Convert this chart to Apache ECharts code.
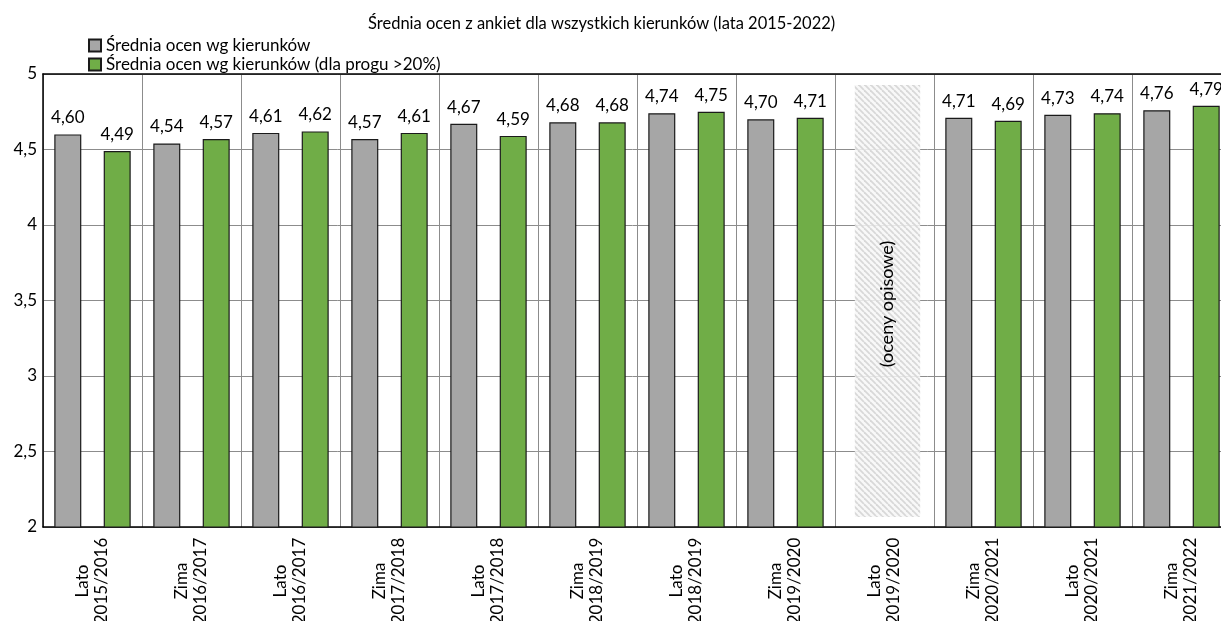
<!DOCTYPE html>
<html>
<head>
<meta charset="utf-8">
<script src="https://cdn.jsdelivr.net/npm/echarts@6/dist/echarts.min.js"></script>
<style>html,body{margin:0;padding:0;background:#fff;}#c{width:1221px;height:621px;}</style>
</head>
<body>
<div id="c"></div>
<script>
const categories = ['Lato\n2015/2016','Zima\n2016/2017','Lato\n2016/2017','Zima\n2017/2018','Lato\n2017/2018','Zima\n2018/2019','Lato\n2018/2019','Zima\n2019/2020','Lato\n2019/2020','Zima\n2020/2021','Lato\n2020/2021','Zima\n2021/2022'];
const seriesAll = [4.60, 4.54, 4.61, 4.57, 4.67, 4.68, 4.74, 4.70, null, 4.71, 4.73, 4.76];
const seriesThreshold = [4.49, 4.57, 4.62, 4.61, 4.59, 4.68, 4.75, 4.71, null, 4.69, 4.74, 4.79];
const descriptiveBlock = [[8, 2.066, 4.927]];
const descriptiveText = '(oceny opisowe)';
const titleText = 'Średnia ocen z ankiet dla wszystkich kierunków (lata 2015-2022)';
const legendNames = ['Średnia ocen wg kierunków', 'Średnia ocen wg kierunków (dla progu >20%)'];

const FONT = 'Lato';
// hatch pattern
const pc = document.createElement('canvas');
pc.width = 6; pc.height = 6;
const g = pc.getContext('2d');
g.fillStyle = 'rgba(247,247,247,0.85)';
g.fillRect(0,0,6,6);
g.strokeStyle = '#d8d8d8';
g.lineWidth = 1.8;
for (let k = -6; k <= 12; k += 6) {
  g.beginPath(); g.moveTo(k, 0); g.lineTo(k + 6, 6); g.stroke();
}

const fmt = v => v.toFixed(2).replace('.', ',');
const chart = echarts.init(document.getElementById('c'));
chart.setOption({
  animation: false,
  backgroundColor: '#fff',
  title: {
    text: titleText, left: 363, top: 10,
    textStyle: {fontFamily: FONT, fontSize: 16.5, fontWeight: 'normal', color: '#000'}
  },
  legend: {
    orient: 'vertical', left: 83, top: 32, itemWidth: 12, itemHeight: 12, itemGap: 2,
    icon: 'rect',
    textStyle: {fontFamily: FONT, fontSize: 17, color: '#000'},
    data: legendNames
  },
  grid: {left: 43, width: 1188, top: 74, bottom: 94, containLabel: false, outerBoundsMode: 'none'},
  xAxis: [{
    type: 'category', data: categories,
    axisLine: {show: true, lineStyle: {color: '#000', width: 1.5}},
    axisTick: {show: false},
    splitLine: {show: true, interval: 0, lineStyle: {color: '#8c8c8c', width: 1}},
    axisLabel: {interval: 0, rotate: 90, align: 'center', verticalAlign: 'middle', margin: 54,
      fontFamily: FONT, fontSize: 17, color: '#000', lineHeight: 19, hideOverlap: false}
  }, {
    type: 'category', data: categories, position: 'top',
    axisLine: {show: true, lineStyle: {color: '#000', width: 1.5}},
    axisTick: {show: false}, axisLabel: {show: false}, splitLine: {show: false}
  }],
  yAxis: {
    type: 'value', min: 2, max: 5, interval: 0.5,
    axisLine: {show: true, lineStyle: {color: '#000', width: 1.5}},
    axisTick: {show: false},
    splitLine: {show: true, lineStyle: {color: '#8c8c8c', width: 1}},
    axisLabel: {margin: 6, fontFamily: FONT, fontSize: 17, color: '#000',
      formatter: v => String(v).replace('.', ',')}
  },
  series: [{
    name: legendNames[0], type: 'bar', data: seriesAll, barWidth: 27, barGap: '83%',
    itemStyle: {color: '#a6a6a6', borderColor: '#1a1a1a', borderWidth: 1.2},
    label: {show: true, position: 'top', distance: 8, fontFamily: FONT, fontSize: 17, color: '#000',
      backgroundColor: '#fff', padding: [0, 3], formatter: p => fmt(p.value)}
  }, {
    name: legendNames[1], type: 'bar', data: seriesThreshold, barWidth: 27,
    itemStyle: {color: '#70ad47', borderColor: '#1a1a1a', borderWidth: 1.2},
    label: {show: true, position: 'top', distance: 8, fontFamily: FONT, fontSize: 17, color: '#000',
      backgroundColor: '#fff', padding: [0, 6], formatter: p => fmt(p.value)}
  }, {
    name: 'opisowe', type: 'custom', data: descriptiveBlock, z: 3,
    renderItem: (params, api) => {
      const x = api.value(0), lo = api.value(1), hi = api.value(2);
      const pt = api.coord([x, hi]); const pb = api.coord([x, lo]);
      const w = api.size([1, 0])[0] * 0.66;
      return {type: 'group', children: [
        {type: 'rect', shape: {x: pt[0] - w / 2 + 3, y: pt[1], width: w, height: pb[1] - pt[1]},
          style: {fill: {image: pc, repeat: 'repeat'}}},
        {type: 'text', x: pt[0] + 3, y: (pt[1] + pb[1]) / 2 + 3, rotation: Math.PI / 2,
          style: {text: descriptiveText, align: 'center', verticalAlign: 'middle',
            font: '18px ' + FONT, fill: '#000'}}
      ]};
    }
  }]
});
</script>
</body>
</html>
